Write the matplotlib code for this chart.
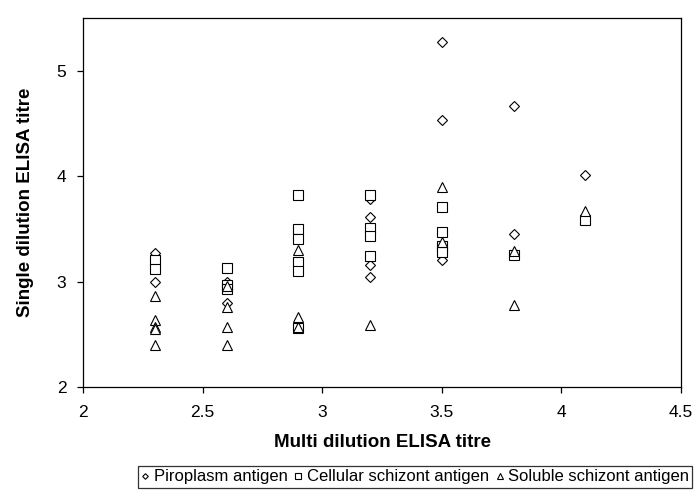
import matplotlib
matplotlib.use("Agg")
import matplotlib.pyplot as plt

plt.rcParams["font.family"] = ["Liberation Sans", "DejaVu Sans"]

# multi dilution titre (x) vs single dilution titre (y), one list per antigen
piro_x = [2.3, 2.3, 2.6, 2.6, 3.2, 3.2, 3.2, 3.2, 3.5, 3.5, 3.5, 3.8, 3.8, 4.1]
piro_y = [3.27, 3.00, 3.00, 2.80, 3.78, 3.61, 3.16, 3.04, 5.27, 4.53, 3.20, 4.67, 3.45, 4.01]

cell_x = [2.3, 2.3, 2.6, 2.6, 2.6, 2.9, 2.9, 2.9, 2.9, 2.9, 2.9,
          3.2, 3.2, 3.2, 3.2, 3.5, 3.5, 3.5, 3.5, 3.8, 4.1]
cell_y = [3.20, 3.12, 3.13, 2.97, 2.93, 3.82, 3.50, 3.40, 3.19, 3.10, 2.56,
          3.82, 3.51, 3.43, 3.24, 3.71, 3.47, 3.34, 3.28, 3.25, 3.58]

sol_x = [2.3, 2.3, 2.3, 2.3, 2.3, 2.6, 2.6, 2.6, 2.6, 2.9, 2.9, 2.9,
         3.2, 3.5, 3.5, 3.8, 3.8, 4.1]
sol_y = [2.86, 2.64, 2.57, 2.55, 2.40, 2.96, 2.76, 2.57, 2.40, 3.30, 2.66, 2.57,
         2.59, 3.90, 3.38, 3.29, 2.78, 3.67]

fig = plt.figure(figsize=(6.98, 4.92), dpi=100)
ax = fig.add_axes([83 / 698, 1 - 387 / 492, 598 / 698, 369 / 492])

kw = dict(ls="none", mfc="white", mec="black", mew=0.8)
ax.plot(piro_x, piro_y, marker="D", ms=5.2, label="Piroplasm antigen", **kw)
ax.plot(cell_x, cell_y, marker="s", ms=7.5, label="Cellular schizont antigen", **kw)
ax.plot(sol_x, sol_y, marker="^", ms=7.5, label="Soluble schizont antigen", **kw)

ax.set_xlim(2, 4.5)
ax.set_ylim(2, 5.5)
ax.set_xticks([2, 2.5, 3, 3.5, 4, 4.5])
ax.set_xticklabels(["2", "2.5", "3", "3.5", "4", "4.5"])
ax.set_yticks([2, 3, 4, 5])
ax.tick_params(labelsize=12.5, length=4, width=0.9)
ax.tick_params(axis="x", pad=9)
ax.tick_params(axis="y", pad=8)
for s in ax.spines.values():
    s.set_linewidth(0.9)

ax.set_xlabel("Multi dilution ELISA titre", fontsize=13.5, weight="bold", labelpad=10)
ax.set_ylabel("Single dilution ELISA titre", fontsize=13.5, weight="bold", labelpad=16)

leg = fig.legend(loc="center", bbox_to_anchor=(415 / 698, 1 - 477 / 492), ncol=3,
                 fontsize=12, frameon=True, fancybox=False, markerscale=0.55,
                 handlelength=0.5, handletextpad=0.25, columnspacing=0.4,
                 borderpad=0.2, borderaxespad=0)
leg.get_frame().set_edgecolor("black")
leg.get_frame().set_linewidth(0.9)

fig.savefig("out.png", dpi=100)
